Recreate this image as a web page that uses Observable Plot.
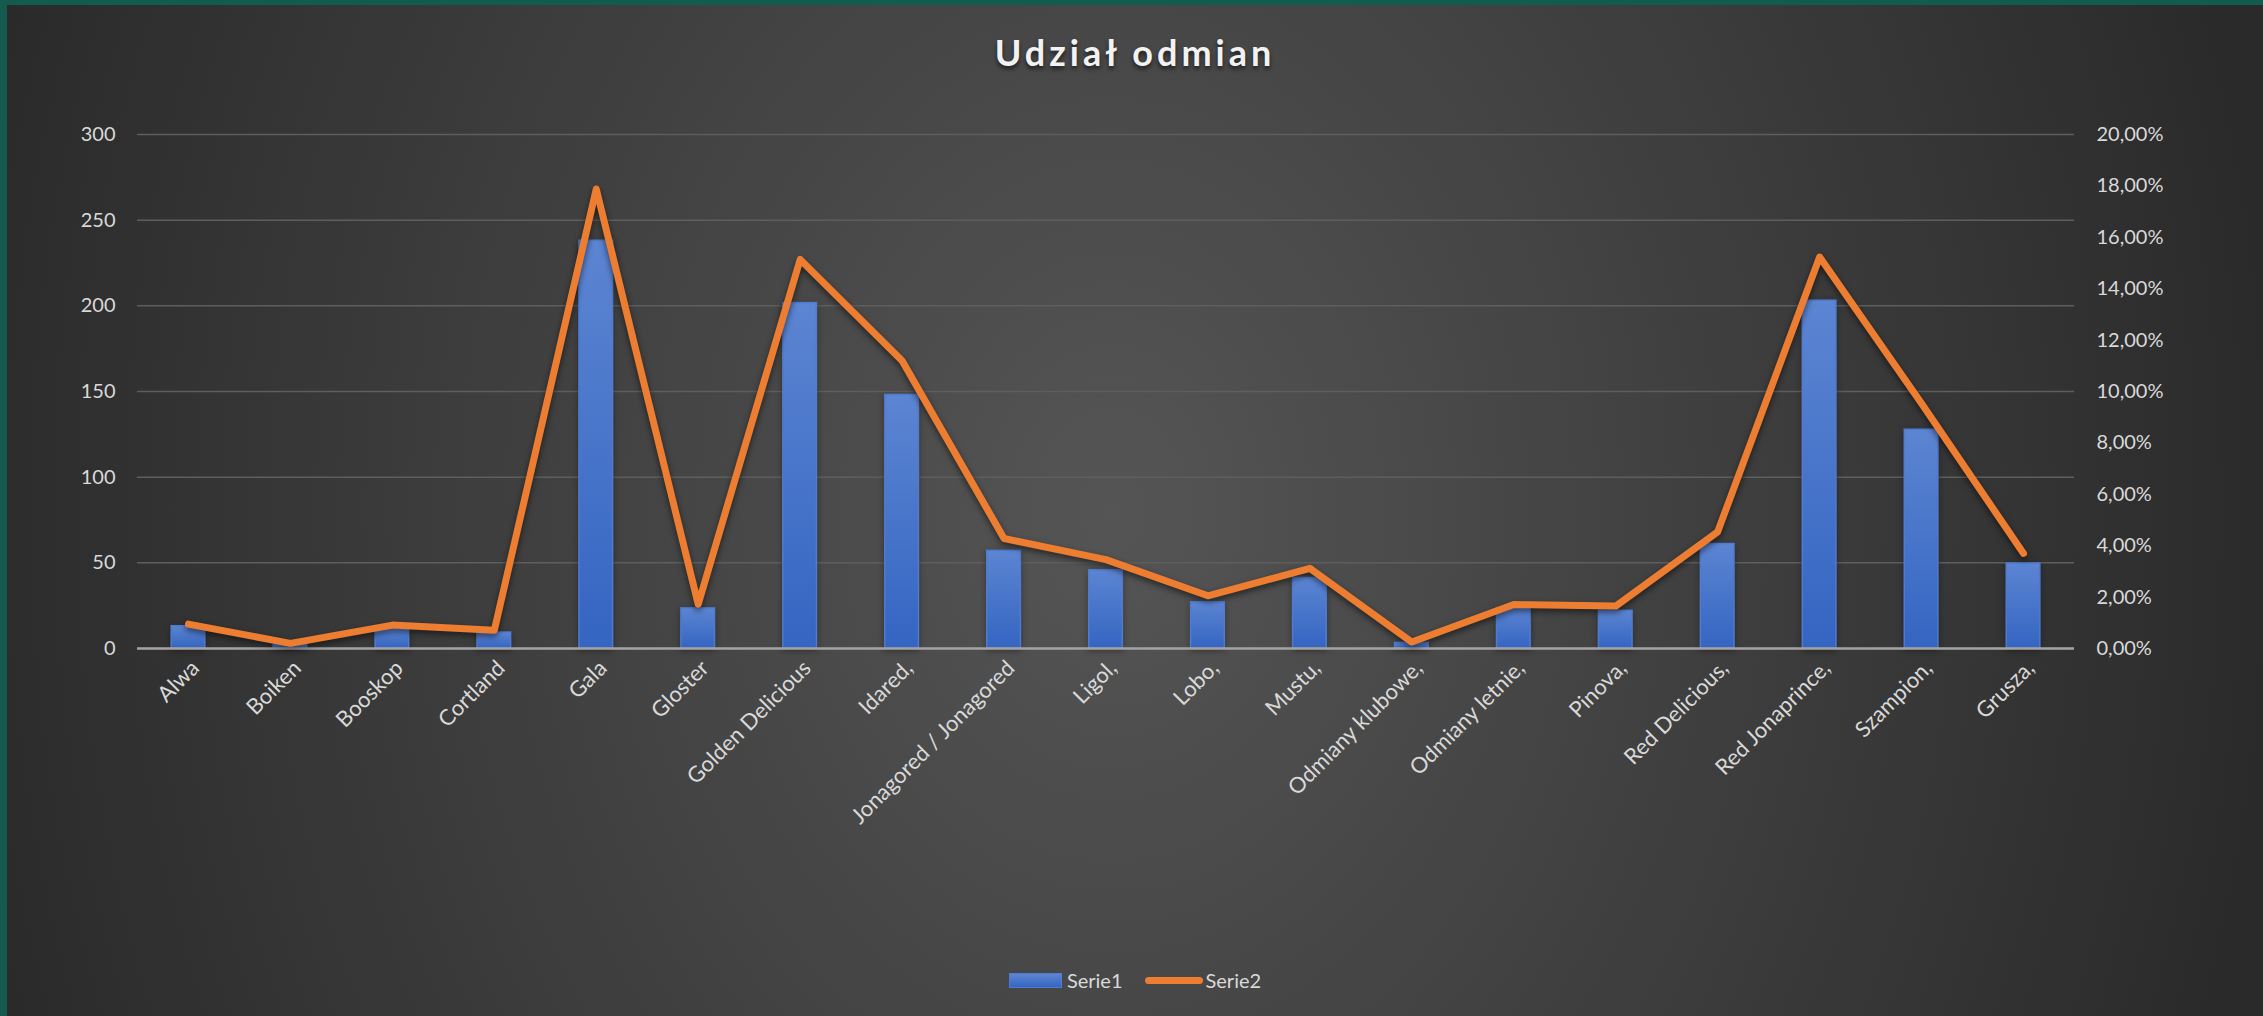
<!DOCTYPE html>
<html>
<head>
<meta charset="utf-8">
<script src="https://cdn.jsdelivr.net/npm/d3@7"></script>
<script src="https://cdn.jsdelivr.net/npm/@observablehq/plot@0.6"></script>
<style>
  html, body { margin: 0; padding: 0; }
  body { width: 2263px; height: 1016px; overflow: hidden; font-family: Lato, "Open Sans", sans-serif; }
  #frame {
    position: relative; box-sizing: border-box; width: 2263px; height: 1016px;
    border-top: 5px solid #135b4f; border-left: 7px solid #135b4f;
    background: radial-gradient(ellipse 52% 150% at 49% 50%, #555555 0%, #2a2a2a 100%);
  }
  #title {
    position: absolute; left: 0; top: 27px; width: 2256px; text-align: center;
    font-size: 36px; line-height: 40px; font-weight: bold; letter-spacing: 4px;
    color: #f2f2f2; text-shadow: 0 3px 4px rgba(0,0,0,0.6);
  }
  #chart { position: absolute; left: 0; top: 95px; }
  #legend {
    position: absolute; left: 0; top: 963px; width: 2256px; height: 24px;
    display: flex; justify-content: center; align-items: center;
    font-size: 20px; color: #d9d9d9;
  }
  .sw-bar { width: 53px; height: 15px; background: linear-gradient(#5c85d2, #3666c2); border: 1px solid #4f7bd0; box-sizing: border-box; margin-right: 5px; }
  .sw-line { width: 58px; height: 7px; border-radius: 4px; background: #ed7d31; margin-left: 22px; margin-right: 3px; }
  g[aria-label="line"] path { filter: drop-shadow(0 3px 3px rgba(0,0,0,0.55)); }
  g[aria-label="bar"] rect { filter: drop-shadow(0 2px 3px rgba(0,0,0,0.35)); }
</style>
</head>
<body>
<div id="frame">
  <div id="title">Udział odmian</div>
  <div id="chart"></div>
  <div id="legend">
    <div class="sw-bar"></div><span>Serie1</span>
    <div class="sw-line"></div><span>Serie2</span>
  </div>
</div>
<script>
const categories = [
  "Alwa", "Boiken", "Booskop", "Cortland", "Gala", "Gloster", "Golden Delicious",
  "Idared,", "Jonagored / Jonagored", "Ligol,", "Lobo,", "Mustu,", "Odmiany klubowe,",
  "Odmiany letnie,", "Pinova,", "Red Delicious,", "Red Jonaprince,", "Szampion,", "Grusza,"
];
const serie1 = [13, 2, 11.5, 9.3, 238, 23.4, 201.6, 148, 57, 45.7, 27, 41.2, 3.3, 23.6, 22, 61, 203, 127.7, 49.6];
const serie2 = [0.0095, 0.0020, 0.0091, 0.0071, 0.1788, 0.0172, 0.1514, 0.1120, 0.0428, 0.0346, 0.0205, 0.0312, 0.0025, 0.0171, 0.0165, 0.0454, 0.1523, 0.0953, 0.0370];
const leftTicks = [0, 50, 100, 150, 200, 250, 300];
const rightTicks = [0, 0.02, 0.04, 0.06, 0.08, 0.10, 0.12, 0.14, 0.16, 0.18, 0.20];

const leftMax = 300, rightMax = 0.20;
const ratio = leftMax / rightMax;
const data = categories.map((c, i) => ({cat: c, v: serie1[i], p: serie2[i]}));

const chart = Plot.plot({
  width: 2256,
  height: 800,
  marginLeft: 130,
  marginRight: 189,
  marginTop: 34,
  marginBottom: 252,
  style: {background: "transparent", color: "#d9d9d9", fontFamily: "Lato, 'Open Sans', sans-serif", fontSize: "20px", overflow: "visible"},
  x: {domain: categories, paddingInner: 0.67, paddingOuter: 0.335, round: false, label: null},
  y: {domain: [0, leftMax], label: null},
  marks: [
    Plot.gridY(leftTicks, {stroke: "#5e5e5e", strokeOpacity: 1, strokeWidth: 1.5}),
    Plot.axisY(leftTicks, {anchor: "left", tickSize: 0, tickPadding: 22, label: null, fontSize: 20}),
    Plot.axisY(rightTicks.map(t => t * ratio), {anchor: "right", tickSize: 0, tickPadding: 22, label: null, fontSize: 20,
      tickFormat: d => (d / ratio * 100).toFixed(2).replace(".", ",") + "%"}),
    Plot.barY(data, {x: "cat", y: "v", fill: "url(#barGrad)", stroke: "#4f7bd0", strokeWidth: 1.5}),
    Plot.ruleY([0], {stroke: "#a3a3a3", strokeWidth: 2.5}),
    Plot.lineY(data, {x: "cat", y: d => d.p * ratio, stroke: "#ed7d31", strokeWidth: 7, strokeLinejoin: "round", strokeLinecap: "round"}),
    Plot.axisX({anchor: "bottom", tickSize: 0, tickPadding: 16, tickRotate: -45, dx: 7, label: null, fontSize: 22})
  ]
});
chart.insertAdjacentHTML("afterbegin",
  '<defs><linearGradient id="barGrad" x1="0" y1="0" x2="0" y2="1">' +
  '<stop offset="0" stop-color="#5c85d2"/><stop offset="1" stop-color="#3465c2"/></linearGradient></defs>');
document.getElementById("chart").appendChild(chart);
</script>
</body>
</html>
